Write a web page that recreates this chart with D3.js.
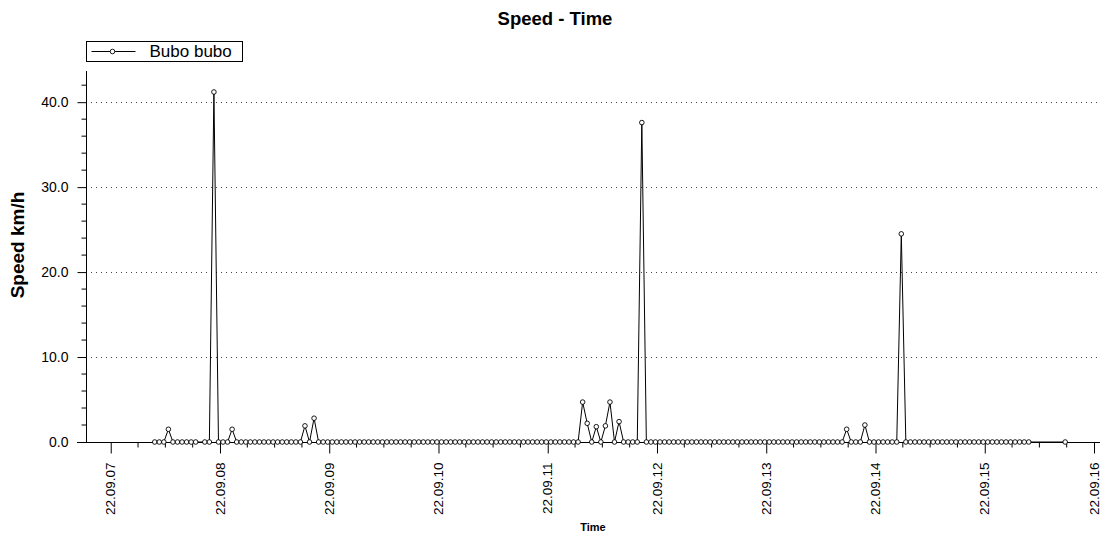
<!DOCTYPE html>
<html>
<head>
<meta charset="utf-8">
<script src="https://cdn.jsdelivr.net/npm/d3@7"></script>
<style>
  html, body { margin: 0; padding: 0; background: #fff; }
  svg { display: block; font-family: Arial, "Liberation Sans", sans-serif; }
</style>
</head>
<body>
<svg id="chart" width="1105" height="533"></svg>
<script>
// Hourly GPS fixes of the tracked owl, first fix 22.09.07 09:40
const seriesName = "Bubo bubo";
const firstFix = "2022-09-07T09:40";
// speed in km/h for each hourly fix; null = no fix recorded that hour
const speeds = [
  // 22.09.07 09:40 .. 22.09.08 08:40
  0, 0, 0, 1.5, 0, 0, 0, 0, 0, 0, null, 0, 0, 41.2, 0, 0, 0, 1.5, 0, 0, 0, 0, 0, 0,
  // 22.09.08 09:40 ..
  0, 0, 0, 0, 0, 0, 0, 0, 0, 1.9, 0, 2.8, 0, 0, 0, 0, 0, 0, 0, 0, 0, 0, 0, 0,
  // 22.09.09 09:40 ..
  0, 0, 0, 0, 0, 0, 0, 0, 0, 0, 0, 0, 0, 0, 0, 0, 0, 0, 0, 0, 0, 0, 0, 0,
  // 22.09.10 09:40 ..
  0, 0, 0, 0, 0, 0, 0, 0, 0, 0, 0, 0, 0, 0, 0, 0, 0, 0, 0, 0, 0, 0, 4.7, 2.2,
  // 22.09.11 09:40 ..
  0, 1.8, 0, 1.9, 4.7, 0, 2.4, 0, 0, 0, 0, 37.6, 0, 0, 0, 0, 0, 0, 0, 0, 0, 0, 0, 0,
  // 22.09.12 09:40 ..
  0, 0, 0, 0, 0, 0, 0, 0, 0, 0, 0, 0, 0, 0, 0, 0, 0, 0, 0, 0, 0, 0, 0, 0,
  // 22.09.13 09:40 ..
  0, 0, 0, 0, 0, 0, 0, 0, 1.5, 0, 0, 0, 2.0, 0, 0, 0, 0, 0, 0, 0, 24.5, 0, 0, 0,
  // 22.09.14 09:40 ..
  0, 0, 0, 0, 0, 0, 0, 0, 0, 0, 0, 0, 0, 0, 0, 0, 0, 0, 0, 0, 0, 0, 0, 0,
  // 22.09.15 09:40 ..
  0, null, null, null, null, null, null, null, 0
];
const timeDomain = ["2022-09-06T18:34", "2022-09-16T01:19"];
const speedMax = 43.67;
const speedMajorTicks = [0, 10, 20, 30, 40];
const speedMinorTicks = [2, 4, 6, 8, 12, 14, 16, 18, 22, 24, 26, 28, 32, 34, 36, 38, 42];

const parse = d3.timeParse("%Y-%m-%dT%H:%M");
const start = parse(firstFix);
const fixes = speeds
  .map((v, i) => ({ t: d3.timeHour.offset(start, i), v }))
  .filter(d => d.v !== null);

const svg = d3.select("#chart");
const plotLeft = 86, plotRight = 1100, plotTop = 71, plotBottom = 442;

const x = d3.scaleTime().domain(timeDomain.map(parse)).range([plotLeft, plotRight]);
const y = d3.scaleLinear().domain([0, speedMax]).range([plotBottom, plotTop]);

// title
svg.append("text")
  .attr("x", 555).attr("y", 25)
  .attr("text-anchor", "middle")
  .attr("font-weight", "bold").attr("font-size", 18.5)
  .text("Speed - Time");

// dotted grid
svg.append("g")
  .selectAll("line")
  .data(speedMajorTicks.filter(d => d > 0))
  .join("line")
  .attr("x1", plotLeft).attr("x2", plotRight)
  .attr("y1", d => Math.round(y(d)) + 0.5).attr("y2", d => Math.round(y(d)) + 0.5)
  .attr("stroke", "#444").attr("stroke-width", 1)
  .attr("stroke-dasharray", "1,4");

// y axis
const yAxis = svg.append("g").attr("transform", `translate(${plotLeft + 0.5},0)`);
yAxis.call(d3.axisLeft(y).tickValues(speedMajorTicks).tickSize(9).tickPadding(9)
  .tickFormat(d3.format(".1f")));
yAxis.append("g").selectAll("line")
  .data(speedMinorTicks)
  .join("line")
  .attr("x1", -5).attr("x2", 0)
  .attr("y1", d => y(d)).attr("y2", d => y(d))
  .attr("stroke", "#000");
yAxis.select(".domain").attr("d", `M0,${plotTop}V${plotBottom}`);
yAxis.attr("font-family", null);
yAxis.selectAll("text").attr("font-size", 14).attr("fill", "#000");

// x axis
const xAxis = svg.append("g").attr("transform", `translate(0,${plotBottom + 0.5})`);
xAxis.call(d3.axisBottom(x).ticks(d3.timeDay.every(1)).tickSize(11).tickFormat(""));
xAxis.select(".domain").attr("d", `M${plotLeft - 9},0H${plotRight}`);
xAxis.append("g").selectAll("line")
  .data(x.ticks(d3.timeHour.every(6)).filter(d => d.getHours() !== 0))
  .join("line")
  .attr("x1", d => x(d)).attr("x2", d => x(d))
  .attr("y1", 0).attr("y2", 5)
  .attr("stroke", "#000");
xAxis.attr("font-family", null);
const fmt = d3.timeFormat("%y.%m.%d");
xAxis.append("g").selectAll("text")
  .data(x.ticks(d3.timeDay.every(1)))
  .join("text")
  .attr("transform", d => `translate(${x(d)},20) rotate(-90)`)
  .attr("dy", "0.35em")
  .attr("text-anchor", "end")
  .attr("font-size", 13.5)
  .attr("fill", "#000")
  .text(fmt);

// axis titles
svg.append("text")
  .attr("transform", `translate(24,245) rotate(-90)`)
  .attr("text-anchor", "middle")
  .attr("font-weight", "bold").attr("font-size", 19)
  .text("Speed km/h");
svg.append("text")
  .attr("x", (plotLeft + plotRight) / 2).attr("y", 531)
  .attr("text-anchor", "middle")
  .attr("font-weight", "bold").attr("font-size", 11)
  .text("Time");

// speed line and fix markers
const line = d3.line().x(d => x(d.t)).y(d => y(d.v));
svg.append("path")
  .datum(fixes)
  .attr("d", line)
  .attr("fill", "none").attr("stroke", "#000").attr("stroke-width", 1);
svg.append("g")
  .selectAll("circle")
  .data(fixes)
  .join("circle")
  .attr("cx", d => x(d.t)).attr("cy", d => y(d.v))
  .attr("r", 2.3)
  .attr("fill", "#fff").attr("stroke", "#000").attr("stroke-width", 0.9);

// legend
const lg = svg.append("g").attr("transform", "translate(86.5,41.5)");
lg.append("rect").attr("width", 156).attr("height", 20)
  .attr("fill", "#fff").attr("stroke", "#000");
lg.append("line").attr("x1", 5).attr("x2", 49).attr("y1", 10).attr("y2", 10).attr("stroke", "#000");
lg.append("circle").attr("cx", 26).attr("cy", 10).attr("r", 2.3)
  .attr("fill", "#fff").attr("stroke", "#000").attr("stroke-width", 0.9);
lg.append("text").attr("x", 63).attr("y", 15.5)
  .attr("font-size", 17).text(seriesName);
</script>
</body>
</html>
